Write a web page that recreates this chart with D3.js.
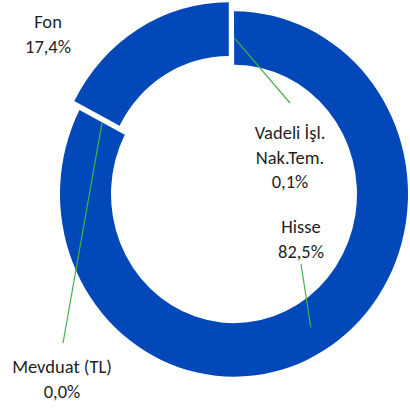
<!DOCTYPE html>
<html>
<head>
<meta charset="utf-8">
<script src="https://cdn.jsdelivr.net/npm/d3@7"></script>
<style>
  body { margin: 0; background: #fff; }
  svg { display: block; }
  text { font-family: Carlito, Lato, "Liberation Sans", sans-serif; font-size: 18.5px; fill: #1f1f1f; }
</style>
</head>
<body>
<div id="chart"></div>
<script>
// slice data, in drawing order (clockwise from 12 o'clock)
const categories = ["Vadeli İşl. Nak.Tem.", "Hisse", "Mevduat (TL)", "Fon"];
const nameLines = [["Vadeli İşl.", "Nak.Tem."], ["Hisse"], ["Mevduat (TL)"], ["Fon"]];
const values = [0.1, 82.5, 0.0, 17.4];
const percentLabels = ["0,1%", "82,5%", "0,0%", "17,4%"];
const explodedSlice = "Fon";

// label layout: centre x, first baseline y, and where the leader line starts
const labelPos = [[290, 139], [301, 233], [62, 373], [48, 28]];
const leaderStart = [[290, 103], [301, 264], [63, 343], null];

const width = 410, height = 410;
const cx = 234, cy = 194;
const outerR = 174, innerR = 123;
const yStretch = 1.05;
const explode = 10;
const blue = "#0348b9";
const green = "#45b045";

const svg = d3.select("#chart").append("svg")
    .attr("width", width)
    .attr("height", height);

const pie = d3.pie().sort(null).value(d => d.value);
const arcs = pie(values.map((v, i) => ({ name: categories[i], value: v, i: i })));

const arc = d3.arc().innerRadius(innerR).outerRadius(outerR);

const ring = svg.append("g")
    .attr("transform", `translate(${cx},${cy}) scale(1,${yStretch})`);

ring.selectAll("path")
    .data(arcs)
    .join("path")
    .attr("d", arc)
    .attr("fill", blue)
    .attr("transform", d => {
        if (d.data.name !== explodedSlice) return null;
        const a = (d.startAngle + d.endAngle) / 2;
        return `translate(${explode * Math.sin(a)},${-explode * Math.cos(a)})`;
    });

// leader lines from label to slice centroid
arcs.forEach((d, i) => {
    if (!leaderStart[i]) return;
    const c = arc.centroid(d);
    svg.append("line")
        .attr("x1", leaderStart[i][0]).attr("y1", leaderStart[i][1])
        .attr("x2", cx + c[0]).attr("y2", cy + c[1] * yStretch)
        .attr("stroke", green)
        .attr("stroke-width", 1.2);
});

// labels
arcs.forEach((d, i) => {
    const [lx, ly] = labelPos[i];
    const t = svg.append("text").attr("text-anchor", "middle");
    const lines = nameLines[i].concat([percentLabels[i]]);
    lines.forEach((s, k) => {
        t.append("tspan").attr("x", lx).attr("y", ly + k * 24.5).text(s);
    });
});
</script>
</body>
</html>
